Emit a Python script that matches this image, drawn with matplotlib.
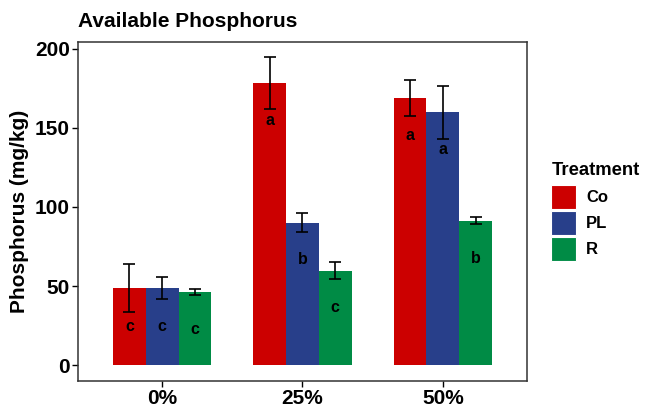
import matplotlib.pyplot as plt
import numpy as np
from matplotlib.patches import Patch

plt.rcParams['font.family'] = ['Liberation Sans', 'DejaVu Sans']

doses = ['0%', '25%', '50%']
treatments = ['Co', 'PL', 'R']
colors = ['#CC0000', '#283F8A', '#008B45']

means = {
    'Co': [48.8, 178.1, 168.9],
    'PL': [48.8, 90.1, 159.9],
    'R': [46.6, 59.7, 91.2],
}
errors = {
    'Co': [15.0, 16.4, 11.2],
    'PL': [6.7, 5.8, 16.7],
    'R': [1.9, 5.3, 2.2],
}
letters = {
    'Co': ['c', 'a', 'a'],
    'PL': ['c', 'b', 'a'],
    'R': ['c', 'c', 'b'],
}
letter_y = {
    'Co': [24.6, 154.8, 145.4],
    'PL': [24.8, 67.0, 136.4],
    'R': [22.9, 36.8, 67.7],
}

fig = plt.figure(figsize=(6.51, 4.05), dpi=100)
ax = fig.add_axes([0.1198, 0.060, 0.6897, 0.8363])

x = np.arange(1, len(doses) + 1)
width = 0.7 / 3
for i, t in enumerate(treatments):
    xs = x + (i - 1) * width
    ax.bar(xs, means[t], width, color=colors[i], zorder=2)
    ax.errorbar(xs, means[t], yerr=errors[t], fmt='none', ecolor='black',
                elinewidth=1.2, capsize=4, capthick=1.2, zorder=3)
    for xx, yy, lab in zip(xs, letter_y[t], letters[t]):
        ax.text(xx, yy, lab, ha='center', va='center', fontsize=11.5,
                fontweight='bold', color='black', zorder=4)

ax.set_xlim(0.4, 3.6)
ax.set_ylim(-9.7, 204.2)
ax.set_xticks(x)
ax.set_xticklabels(doses)
ax.set_yticks([0, 50, 100, 150, 200])
ax.tick_params(axis='both', direction='out', length=4, width=1, color='black',
               labelsize=15, pad=2)
for lab in ax.get_xticklabels() + ax.get_yticklabels():
    lab.set_fontweight('bold')
for sp in ax.spines.values():
    sp.set_color('#333333')
    sp.set_linewidth(1.1)

ax.set_ylabel('Phosphorus (mg/kg)', fontsize=15, fontweight='bold', labelpad=4)
ax.set_title('Available Phosphorus', loc='left', fontsize=15,
             fontweight='bold', pad=11)

handles = [Patch(facecolor=c, edgecolor='white', linewidth=0.8) for c in colors]
leg = fig.legend(handles, treatments, loc='upper left',
                 bbox_to_anchor=(0.847, 0.60), frameon=False,
                 title='Treatment', handlelength=1.5, handleheight=1.885,
                 labelspacing=0.09, handletextpad=0.58, borderaxespad=0,
                 borderpad=0,
                 prop={'weight': 'bold', 'size': 12},
                 title_fontproperties={'weight': 'bold', 'size': 13.3})
leg._legend_box.align = 'left'
leg._legend_box.sep = 4

fig.savefig('out.png', dpi=100)
